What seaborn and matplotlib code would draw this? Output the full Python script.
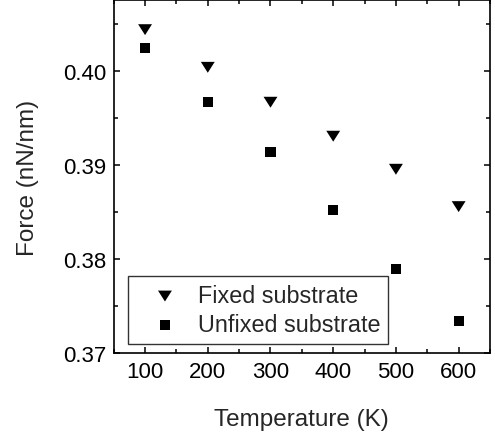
import numpy as np
import pandas as pd
import matplotlib
matplotlib.use("Agg")
import matplotlib.pyplot as plt
from matplotlib.ticker import MultipleLocator, FormatStrFormatter
import seaborn as sns

# data
temperature = [100, 200, 300, 400, 500, 600]
force_fixed = [0.40435, 0.40035, 0.39664, 0.39303, 0.38952, 0.38555]
force_unfixed = [0.40241, 0.39668, 0.39134, 0.38515, 0.37897, 0.37343]
series_names = ["Fixed substrate", "Unfixed substrate"]

sns.set_style("ticks")
plt.rcParams["font.family"] = ["Liberation Sans", "DejaVu Sans"]

df = pd.DataFrame({
    "T": temperature * 2,
    "F": force_fixed + force_unfixed,
    "series": [series_names[0]] * 6 + [series_names[1]] * 6,
})

fig = plt.figure(figsize=(4.95, 4.39), dpi=100)
ax = fig.add_axes([0.2297, 0.1936, 0.7602, 0.8041])

tri = [(-7, 5.5), (7, 5.5), (0, -5.5)]
sns.scatterplot(data=df[df["series"] == series_names[0]], x="T", y="F",
                marker=tri, s=100, color="black", edgecolor="none",
                label=series_names[0], ax=ax)
sns.scatterplot(data=df[df["series"] == series_names[1]], x="T", y="F",
                marker="s", s=52, color="black", edgecolor="none",
                label=series_names[1], ax=ax)

ax.set_xlim(50, 650)
ax.set_ylim(0.37, 0.4075)
ax.xaxis.set_major_locator(MultipleLocator(100))
ax.xaxis.set_minor_locator(MultipleLocator(50))
ax.yaxis.set_major_locator(MultipleLocator(0.01))
ax.yaxis.set_minor_locator(MultipleLocator(0.005))
ax.yaxis.set_major_formatter(FormatStrFormatter("%.2f"))

ax.tick_params(which="both", direction="in", top=True, right=True,
               width=1.1, labelsize=16, colors="black")
ax.tick_params(which="major", length=4.3, pad=5.5)
ax.tick_params(which="minor", length=3)
for sp in ax.spines.values():
    sp.set_linewidth(1.2)
    sp.set_color("black")

ax.set_xlabel("Temperature (K)", fontsize=17.5, labelpad=19)
ax.set_ylabel("Force (nN/nm)", fontsize=17.5, labelpad=17)

leg = ax.legend(loc="lower left", bbox_to_anchor=(0.037, 0.025), borderaxespad=0,
                fontsize=16.8, frameon=True, fancybox=False, handlelength=2.5,
                handletextpad=0.15, borderpad=0.35, labelspacing=0.25)
leg.get_frame().set_edgecolor("black")
leg.get_frame().set_linewidth(1.0)

fig.savefig("out.png", dpi=100)
